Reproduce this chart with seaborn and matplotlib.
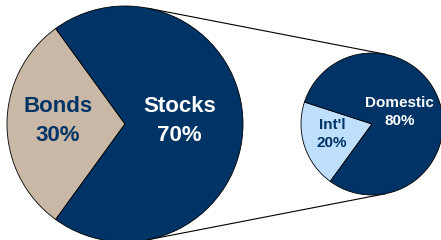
import numpy as np
import matplotlib
matplotlib.use("Agg")
import matplotlib.pyplot as plt
import seaborn as sns

# data
asset_classes = ["Bonds", "Stocks"]
asset_pct = [30, 70]
stock_regions = ["Int'l", "Domestic"]
stock_pct = [20, 80]

sns.set_theme(style="white")
plt.rcParams["font.family"] = ["Liberation Sans", "DejaVu Sans"]

navy = "#003366"
tan = "#C8B8A5"
light_blue = "#BFDFFF"

fig = plt.figure(figsize=(4.41, 2.40), dpi=100)
ax = fig.add_axes([0, 0, 1, 1])
ax.set_xlim(0, 441)
ax.set_ylim(0, 240)
ax.set_aspect("equal")
ax.axis("off")

# layout (pixel units)
big_c, big_r = (125, 116), 118
small_c, small_r = (372, 116), 71


def draw_pie(values, names, center, radius, start, colors, txt_colors, dists, size, spacing):
    wedges, _ = ax.pie(values, colors=colors, startangle=start, counterclock=True,
                       center=center, radius=radius, frame=True,
                       wedgeprops=dict(edgecolor="black", linewidth=0.6))
    for w, name, v, tc, d in zip(wedges, names, values, txt_colors, dists):
        mid = np.deg2rad((w.theta1 + w.theta2) / 2)
        x = center[0] + d * radius * np.cos(mid)
        y = center[1] + d * radius * np.sin(mid) + 3
        ax.text(x, y, f"{name}\n{v}%", ha="center", va="center", color=tc,
                fontsize=size, fontweight="bold", linespacing=spacing)


draw_pie(asset_pct, asset_classes, big_c, big_r, 126, [tan, navy],
         [navy, "white"], [0.57, 0.46], 16, 1.5)
draw_pie(stock_pct, stock_regions, small_c, small_r, 162, [light_blue, navy],
         [navy, "white"], [0.59, 0.41], 11, 1.4)

# external tangent connector lines
dx = small_c[0] - big_c[0]
phi = np.arcsin((big_r - small_r) / dx)
for sgn in (1, -1):
    ang = sgn * (np.pi / 2 - phi)
    p1 = (big_c[0] + big_r * np.cos(ang), big_c[1] + big_r * np.sin(ang))
    p2 = (small_c[0] + small_r * np.cos(ang), small_c[1] + small_r * np.sin(ang))
    ax.plot([p1[0], p2[0]], [p1[1], p2[1]], color="black", linewidth=0.8, zorder=0)

ax.set_xlim(0, 441)
ax.set_ylim(0, 240)
ax.set_xticks([])
ax.set_yticks([])
for s in ax.spines.values():
    s.set_visible(False)

fig.savefig("out.png", dpi=100, facecolor="white")
